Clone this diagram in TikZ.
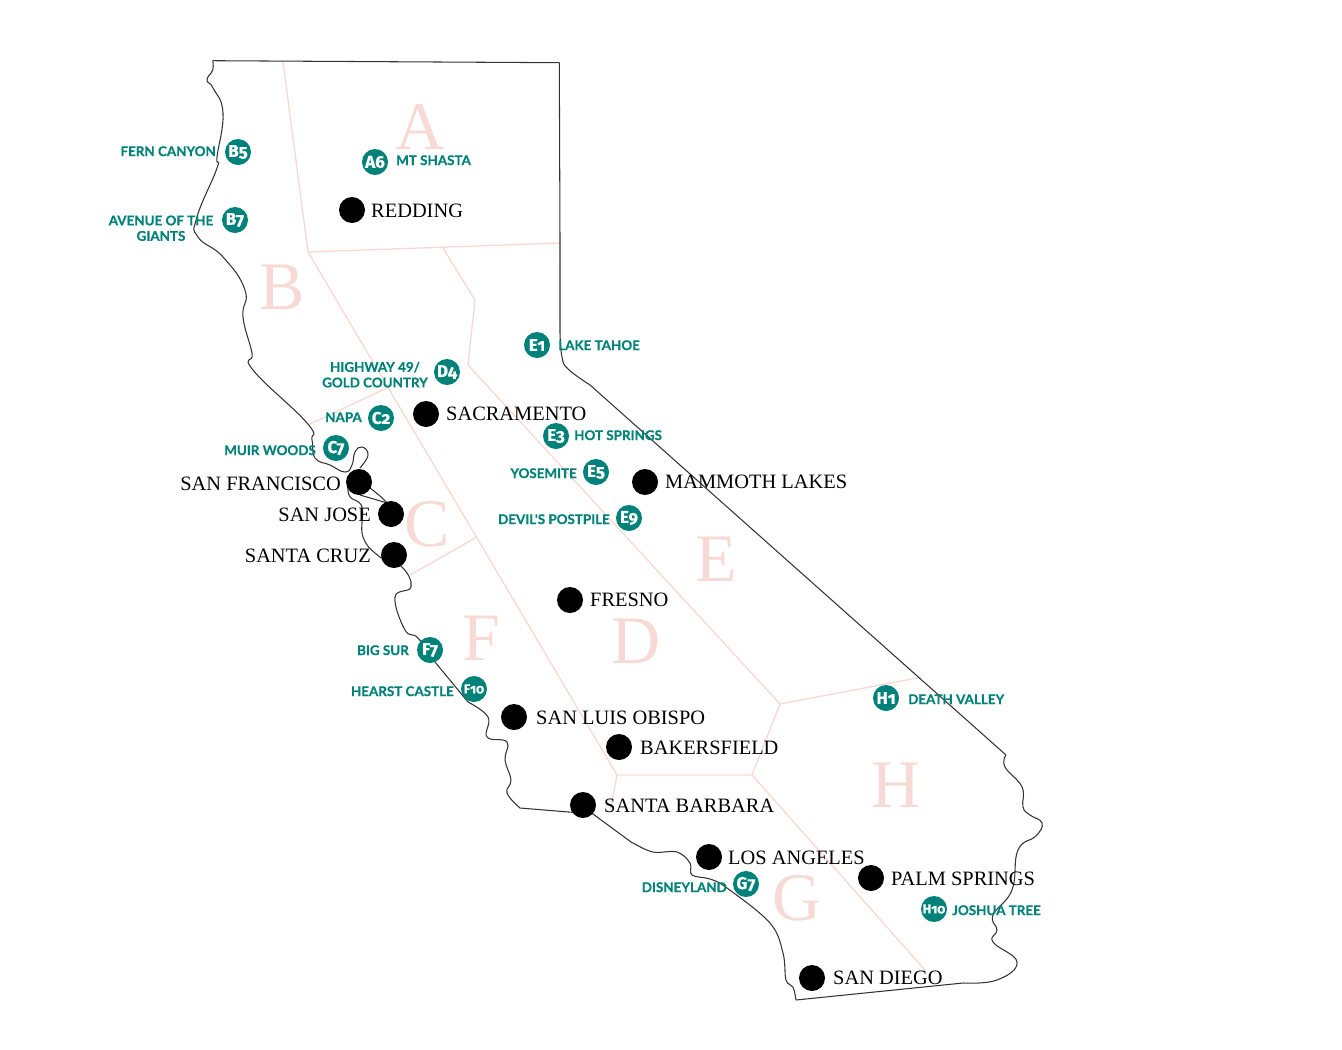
\documentclass[tikz,border=0pt]{standalone}
\usepackage{fontspec}
\setmainfont{Liberation Serif}
\newfontfamily\labfont[BoldFeatures={FakeBold=0.5}]{Lato}
\newfontfamily\badgefont[Numbers=OldStyle,BoldFeatures={FakeBold=0.6}]{Fira Sans}
\definecolor{pinkline}{HTML}{F9D8D1}
\definecolor{pinkletter}{HTML}{F7DAD5}
\definecolor{tealc}{HTML}{00827B}
\definecolor{coast}{HTML}{333333}
\tikzset{
 region/.style={draw=pinkline,line width=1.3pt,line join=round},
 bigletter/.style={text=pinkletter,font=\fontsize{68}{68}\selectfont,inner sep=0pt},
 citydot/.style={circle,fill=black,minimum size=26pt,inner sep=0pt},
 citylab/.style={text=black,font=\fontsize{20.4}{21}\selectfont,inner sep=0pt},
 badge/.style={circle,fill=tealc,minimum size=26pt,inner sep=0pt,text=white,font=\badgefont\bfseries\fontsize{17}{17}\selectfont},
 badgesmall/.style={badge,font=\badgefont\bfseries\fontsize{13}{13}\selectfont},
 poi/.style={text=tealc,font=\labfont\bfseries\fontsize{13.4}{15.5}\selectfont,inner sep=0pt,align=center,yshift=-0.2pt},
 outline/.style={draw=coast,line width=1.05pt,line join=round}
}
\begin{document}
\begin{tikzpicture}[x=1pt,y=-1pt]
\useasboundingbox (0,0) rectangle (1342,1050);
% regions
\draw[region] (283,62) -- (308,252) -- (560,243);
\draw[region] (443,248) -- (475,300) -- (468,365) -- (780,704) -- (922,677);
\draw[region] (780,704) -- (752,775) -- (617,775) -- (308,252);
\draw[region] (752,775) -- (925,970);
\draw[region] (617,775) -- (610,812);
\draw[region] (387,388) -- (308,425);
\draw[region] (477,537) -- (410,575);
% outline
\draw[outline] (212.7,60.7) -- (559.3,62.7) -- (560,240) -- (560,333)
  plot[smooth,tension=0.7] coordinates {(560,333) (562,357) (568,369) (590,385)}
  -- (1006,755)
  plot[smooth,tension=0.75] coordinates {(1006,755) (1005,767) (1022,787) (1023,807) (1030,815) (1042,823) (1036,836) (1018,850) (1012,890) (993,915) (997,930) (993,942) (1017,962) (997,980) (963,983)}
  -- (796,1000)
  plot[smooth,tension=0.6] coordinates {(796,1000) (793,987) (786,980) (783,953) (770,923) (727,888) (710,879) (692,875) (690,863) (677,852) (653,852) (633,843) (627,839) (593,814)}
  -- (520,808)
  plot[smooth,tension=0.7] coordinates {(520,808) (507,793) (511,780) (505,760) (507,742) (487,737) (488,717) (468,702)}
  -- (435,662)
  plot[smooth,tension=0.7] coordinates {(435,662) (418,638) (405,630) (395,597) (411,587) (402,567) (380,557) (363,537) (362,507) (350,497) (348,487)};
\draw[outline] plot[smooth,tension=0.8] coordinates {(212.7,60.7) (212.7,70) (207,80) (213,88) (223,113) (217,157) (217,168) (197,217) (198,237) (223,257) (245,290) (243,317) (252,353) (253,370) (307,423) (312,440) (315,458) (330,465) (345,472) (352,465) (355,452) (362,447) (368,455) (360,468)};
\draw[outline] plot[smooth,tension=0.7] coordinates {(360,495) (377,500) (387,503)};
\draw[outline] plot[smooth,tension=0.7] coordinates {(370,488) (380,496) (387,503)};
% big letters
\node[bigletter] (lA) at (420,127) {A};
\node[bigletter] (lB) at (282.5,287) {B};
\node[bigletter] (lC) at (427,524) {C};
\node[bigletter] (lD) at (636,641) {D};
\node[bigletter] (lE) at (716,559) {E};
\node[bigletter] (lF) at (481,638) {F};
\node[bigletter] (lG) at (797,898) {G};
\node[bigletter] (lH) at (896,785) {H};
% cities
\node[citydot] (redding) at (352,210) {};
\node[citydot] (sacramento) at (426,414) {};
\node[citydot] (sf) at (359,482) {};
\node[citydot] (sj) at (391,514) {};
\node[citydot] (sc) at (394,555) {};
\node[citydot] (mammoth) at (645,482) {};
\node[citydot] (fresno) at (570,600) {};
\node[citydot] (slo) at (514,717) {};
\node[citydot] (bak) at (619,747) {};
\node[citydot] (sb) at (583,805) {};
\node[citydot] (la) at (709,857) {};
\node[citydot] (ps) at (871,878) {};
\node[citydot] (sd) at (812,978) {};
\node[citylab,anchor=west] (tredding) at (371,211) {REDDING};
\node[citylab,anchor=west] (tsac) at (446,414) {SACRAMENTO};
\node[citylab,anchor=east] (tsf) at (341,484) {SAN FRANCISCO};
\node[citylab,anchor=east] (tsj) at (371,515) {SAN JOSE};
\node[citylab,anchor=east] (tsc) at (371,556) {SANTA CRUZ};
\node[citylab,anchor=west] (tmam) at (665,482) {MAMMOTH LAKES};
\node[citylab,anchor=west] (tfre) at (590,600) {FRESNO};
\node[citylab,anchor=west] (tslo) at (536,718) {SAN LUIS OBISPO};
\node[citylab,anchor=west] (tbak) at (640,748) {BAKERSFIELD};
\node[citylab,anchor=west] (tsb) at (604,806) {SANTA BARBARA};
\node[citylab,anchor=west] (tla) at (728,858) {LOS ANGELES};
\node[citylab,anchor=west] (tps) at (891,879) {PALM SPRINGS};
\node[citylab,anchor=west] (tsd) at (833,978) {SAN DIEGO};
% badges
\node[badge] (A6) at (375,162) {A6};
\node[badge] (B5) at (238,152) {B5};
\node[badge] (B7) at (235,220) {B7};
\node[badge] (E1) at (537,345) {E1};
\node[badge] (D4) at (447,372) {D4};
\node[badge] (C2) at (381,418) {C2};
\node[badge] (C7) at (336,448) {C7};
\node[badge] (E3) at (556,436) {E3};
\node[badge] (E5) at (596,472) {E5};
\node[badge] (E9) at (629,518) {E9};
\node[badge] (F7) at (430,650) {F7};
\node[badgesmall] (F10) at (474,689) {F10};
\node[badge] (H1) at (886,698) {H1};
\node[badge] (G7) at (746,884) {G7};
\node[badgesmall] (H10) at (934,909) {H10};
% poi labels
\node[poi,anchor=west] (pA6) at (396,160) {MT SHASTA};
\node[poi,anchor=east] (pB5) at (216,151) {FERN CANYON};
\node[poi] (pB7) at (161,228) {AVENUE OF THE\\GIANTS};
\node[poi,anchor=west] (pE1) at (558,345) {LAKE TAHOE};
\node[poi] (pD4) at (375,374.5) {HIGHWAY 49/\\GOLD COUNTRY};
\node[poi,anchor=east] (pC2) at (362,417) {NAPA};
\node[poi,anchor=east] (pC7) at (316,450) {MUIR WOODS};
\node[poi,anchor=west] (pE3) at (574,435) {HOT SPRINGS};
\node[poi,anchor=east] (pE5) at (577,473) {YOSEMITE};
\node[poi,anchor=east] (pE9) at (610,519) {DEVIL'S POSTPILE};
\node[poi,anchor=east] (pF7) at (409,650) {BIG SUR};
\node[poi,anchor=east] (pF10) at (454,691) {HEARST CASTLE};
\node[poi,anchor=west] (pH1) at (908,699) {DEATH VALLEY};
\node[poi,anchor=east] (pG7) at (727,887) {DISNEYLAND};
\node[poi,anchor=west] (pH10) at (952,910) {JOSHUA TREE};
\end{tikzpicture}
\end{document}
